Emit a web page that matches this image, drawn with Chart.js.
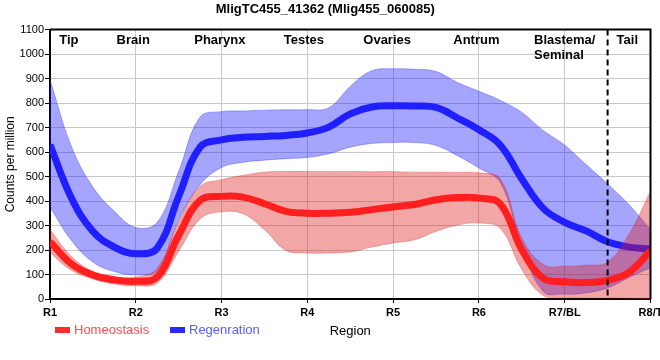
<!DOCTYPE html>
<html>
<head>
<meta charset="utf-8">
<script src="https://cdn.jsdelivr.net/npm/chart.js@4.4.1/dist/chart.umd.min.js"></script>
<style>
body { margin: 0; background: #fff; }
#wrap { width: 660px; height: 360px; }
</style>
</head>
<body>
<div id="wrap"><canvas id="myChart"></canvas></div>
<script>
// positions along the body, R1 = 0 ... R8/T = 7
const pos = [0, 0.25, 0.5, 0.75, 1, 1.25, 1.5, 1.75, 2, 2.25, 2.5, 2.75, 3, 3.25, 3.5, 3.75,
    4, 4.25, 4.5, 4.75, 5, 5.25, 5.5, 5.75, 6, 6.25, 6.5, 6.75, 7];
const xLabels = ['R1', 'R2', 'R3', 'R4', 'R5', 'R6', 'R7/BL', 'R8/T'];
const regions = ['Tip', 'Brain', 'Pharynx', 'Testes', 'Ovaries', 'Antrum', ['Blastema/', 'Seminal'], 'Tail'];
const regionPos = [0.22, 0.97, 1.98, 2.96, 3.93, 4.97, 6.0, 6.73];
const dividerAt = 6.5;

const homeoMean = [234, 143, 98, 78, 72, 90, 260, 403, 419, 416, 389, 358, 350, 350, 354, 365,
    376, 386, 405, 414, 412, 388, 201, 85, 70, 67, 76, 109, 197];
const homeoHigh = [283, 174, 113, 92, 90, 125, 317, 460, 487, 505, 518, 521, 521, 521, 521, 520,
    520, 518, 518, 517, 515, 490, 249, 141, 134, 138, 150, 265, 440];
const homeoLow = [189, 117, 82, 61, 54, 65, 195, 327, 356, 348, 283, 199, 188, 188, 192, 212,
    229, 242, 276, 302, 310, 288, 120, 14, 5, 4, 4, 3, 2];

const regenMean = [630, 412, 276, 212, 185, 208, 419, 620, 650, 660, 664, 668, 678, 702, 756, 784,
    789, 788, 782, 739, 691, 628, 490, 370, 313, 278, 234, 212, 204];
const regenHigh = [895, 623, 457, 358, 292, 313, 521, 743, 765, 768, 771, 773, 773, 781, 868, 932,
    940, 938, 929, 884, 848, 811, 762, 688, 628, 549, 470, 385, 283];
const regenLow = [375, 239, 151, 112, 99, 117, 324, 467, 537, 558, 567, 573, 578, 593, 620, 635,
    639, 639, 627, 585, 535, 475, 215, 31, 20, 25, 45, 88, 128];

const FONT = '"Liberation Sans", Arial, sans-serif';
Chart.defaults.font.family = FONT;
Chart.defaults.color = '#000';

function pts(arr) {
    return pos.map((x, i) => ({ x: x, y: arr[i] }));
}

const line = { pointRadius: 0, tension: 0.4 };

const data = {
    datasets: [
        { ...line, label: 'regenHigh', data: pts(regenHigh), borderColor: 'rgba(40,40,255,0.35)', borderWidth: 1,
          fill: '+1', backgroundColor: 'rgba(30,30,250,0.4)', order: 6 },
        { ...line, label: 'regenLow', data: pts(regenLow), borderColor: 'rgba(40,40,255,0.35)', borderWidth: 1,
          fill: false, order: 6 },
        { ...line, label: 'Regenration', data: pts(regenMean), borderColor: '#1f1fff', borderWidth: 7,
          fill: false, order: 5 },
        { ...line, label: 'homeoHigh', data: pts(homeoHigh), borderColor: 'rgba(220,30,30,0.3)', borderWidth: 1,
          fill: '+1', backgroundColor: 'rgba(220,20,20,0.38)', order: 4 },
        { ...line, label: 'homeoLow', data: pts(homeoLow), borderColor: 'rgba(220,30,30,0.3)', borderWidth: 1,
          fill: false, order: 4 },
        { ...line, label: 'Homeostasis', data: pts(homeoMean), borderColor: '#ff1f1f', borderWidth: 7,
          fill: false, order: 3 }
    ]
};

const extras = {
    id: 'extras',
    afterDatasetsDraw(chart) {
        const { ctx, chartArea: a, scales: { x } } = chart;
        ctx.save();
        ctx.strokeStyle = '#000';
        ctx.lineWidth = 2;
        // dashed divider between blastema and tail
        const dx = x.getPixelForValue(dividerAt);
        ctx.setLineDash([6, 4]);
        ctx.beginPath();
        ctx.moveTo(dx, a.top);
        ctx.lineTo(dx, a.bottom);
        ctx.stroke();
        ctx.setLineDash([]);
        // top and right frame
        ctx.beginPath();
        ctx.moveTo(a.left, a.top);
        ctx.lineTo(a.right, a.top);
        ctx.lineTo(a.right, a.bottom);
        ctx.stroke();

        // region names
        ctx.font = 'bold 13px ' + FONT;
        ctx.fillStyle = '#000';
        ctx.textBaseline = 'middle';
        regions.forEach((r, i) => {
            const cx = x.getPixelForValue(regionPos[i]);
            if (Array.isArray(r)) {
                const left = cx - ctx.measureText(r[0]).width / 2;
                ctx.textAlign = 'left';
                r.forEach((s, j) => ctx.fillText(s, left, a.top + 11 + j * 15));
            } else {
                ctx.textAlign = 'center';
                ctx.fillText(r, cx, a.top + 11);
            }
        });

        // legend
        const items = [
            { text: 'Homeostasis', box: '#ff2a2a', color: '#ff4a55', x: 55 },
            { text: 'Regenration', box: '#2a2aff', color: '#5a5aff', x: 170 }
        ];
        ctx.font = '13px ' + FONT;
        ctx.textAlign = 'left';
        items.forEach(it => {
            ctx.fillStyle = it.box;
            ctx.fillRect(it.x, 327, 15, 6);
            ctx.fillStyle = it.color;
            ctx.fillText(it.text, it.x + 19, 330.5);
        });
        ctx.restore();
    }
};

const config = {
    type: 'line',
    data: data,
    options: {
        responsive: true,
        maintainAspectRatio: false,
        animation: false,
        layout: { padding: { left: 0, right: 9.5, top: 0, bottom: 20 } },
        plugins: {
            legend: { display: false },
            tooltip: { enabled: false },
            title: {
                display: true,
                text: 'MligTC455_41362 (Mlig455_060085)',
                font: { size: 13, weight: 'bold' },
                color: '#000',
                padding: { top: 2, bottom: 12 }
            }
        },
        scales: {
            x: {
                type: 'linear',
                min: 0,
                max: 7,
                ticks: {
                    stepSize: 1,
                    padding: 3,
                    font: { size: 11, weight: 'bold' },
                    color: '#000',
                    maxRotation: 0,
                    callback: v => xLabels[v]
                },
                grid: { color: '#c8c8c8', tickColor: '#000', tickLength: 4 },
                border: { color: '#000', width: 2 },
                title: { display: true, text: 'Region', font: { size: 13 }, color: '#000', padding: { top: 1, bottom: 1 } },
                afterFit(scale) {
                    scale.height = 41;
                    scale.paddingLeft = 0;
                    scale.paddingRight = 0;
                }
            },
            y: {
                min: 0,
                max: 1100,
                ticks: { stepSize: 100, padding: 1, font: { size: 11 }, color: '#000', callback: v => String(v) },
                grid: { color: '#c8c8c8', tickColor: '#000', tickLength: 5 },
                border: { color: '#000', width: 2 },
                title: { display: true, text: 'Counts per million', font: { size: 12 }, color: '#000', padding: { top: 3, bottom: 0 } },
                afterFit(scale) {
                    scale.width = 50;
                    scale.paddingTop = 0;
                    scale.paddingBottom = 0;
                }
            }
        }
    },
    plugins: [extras]
};

const myChart = new Chart(document.getElementById('myChart'), config);
</script>
</body>
</html>
